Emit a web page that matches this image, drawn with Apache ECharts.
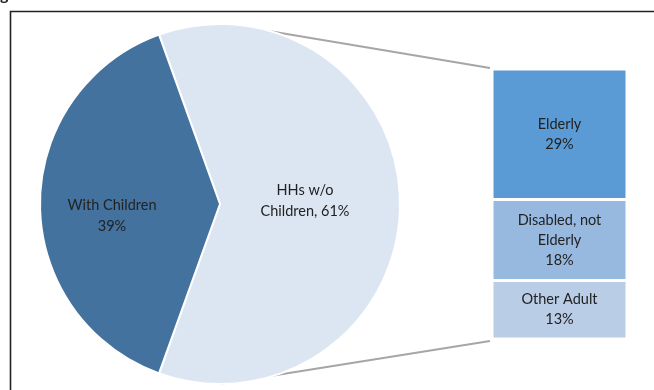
<!DOCTYPE html>
<html>
<head>
<meta charset="utf-8">
<script src="https://cdn.jsdelivr.net/npm/echarts@6/dist/echarts.min.js"></script>
<style>html,body{margin:0;padding:0;background:#fff}#c{width:654px;height:390px}</style>
</head>
<body>
<div id="c"></div>
<script>
var pieNames = ['HHs w/o\nChildren, 61%', 'With Children\n39%'];
var pieValues = [61, 39];
var barCategories = ['Other Adult', 'Disabled, not Elderly', 'Elderly'];
var barValues = [13, 18, 29];
var barLabels = ['Other Adult\n13%', 'Disabled, not\nElderly\n18%', 'Elderly\n29%'];

var FONT = 'Lato, "Open Sans", sans-serif';
var pieCenter = [220, 204], pieR = 180;
var pieColors = ['#dce6f2', '#44729e'];
var barColors = ['#b9cde6', '#97b9df', '#5b9bd5'];

var chart = echarts.init(document.getElementById('c'), null, {renderer: 'canvas'});
var pieData = pieValues.map(function (v, i) {
  return {
    value: v, name: pieNames[i],
    itemStyle: {color: pieColors[i]},
    label: {offset: i === 0 ? [-8, -3] : [-15, 12]}
  };
});
var barSeries = barValues.map(function (v, i) {
  return {
    type: 'bar', stack: 'adults', name: barCategories[i],
    data: [v], barWidth: '100%',
    itemStyle: {color: barColors[i], borderColor: '#fff', borderWidth: 1.5},
    label: {show: true, position: 'inside', formatter: barLabels[i],
      color: '#222', fontFamily: FONT, fontSize: 14.5, lineHeight: 20},
    silent: true
  };
});
chart.setOption({
  animation: false,
  backgroundColor: '#fff',
  grid: {left: 492, width: 135, top: 69, bottom: 51},
  xAxis: {type: 'category', data: ['Adults'], show: false},
  yAxis: {type: 'value', min: 0, max: 60, show: false},
  series: [{
    type: 'pie', center: pieCenter, radius: pieR, startAngle: 109.8,
    clockwise: true, silent: true,
    itemStyle: {borderColor: '#fff', borderWidth: 2},
    label: {show: true, position: 'inside', color: '#222', fontFamily: FONT,
      fontSize: 14.5, lineHeight: 21, formatter: '{b}'},
    labelLine: {show: false},
    data: pieData
  }].concat(barSeries)
});

var topPt = chart.convertToPixel({xAxisIndex: 0, yAxisIndex: 0}, [0, 60]);
var botPt = chart.convertToPixel({xAxisIndex: 0, yAxisIndex: 0}, [0, 0]);
var halfW = 67.5;
function onCircle(deg) {
  var r = deg * Math.PI / 180;
  return [pieCenter[0] + pieR * Math.cos(r), pieCenter[1] - pieR * Math.sin(r)];
}
var a = onCircle(83.5), b = onCircle(270);
chart.setOption({
  graphic: [
    {type: 'line', shape: {x1: a[0], y1: a[1] + 1, x2: topPt[0] - halfW - 2, y2: topPt[1] - 1},
      style: {stroke: '#a6a6a6', lineWidth: 2}, silent: true},
    {type: 'line', shape: {x1: b[0], y1: b[1], x2: botPt[0] - halfW - 2, y2: botPt[1] + 2},
      style: {stroke: '#a6a6a6', lineWidth: 2}, silent: true},
    {type: 'rect', shape: {x: 10.5, y: 11.5, width: 700, height: 420},
      style: {fill: null, stroke: '#222', lineWidth: 1.6}, silent: true},
    {type: 'text', x: 0, y: -13, style: {text: 'g', font: 'bold 16px ' + FONT, fill: '#222'}, silent: true}
  ]
});
</script>
</body>
</html>
